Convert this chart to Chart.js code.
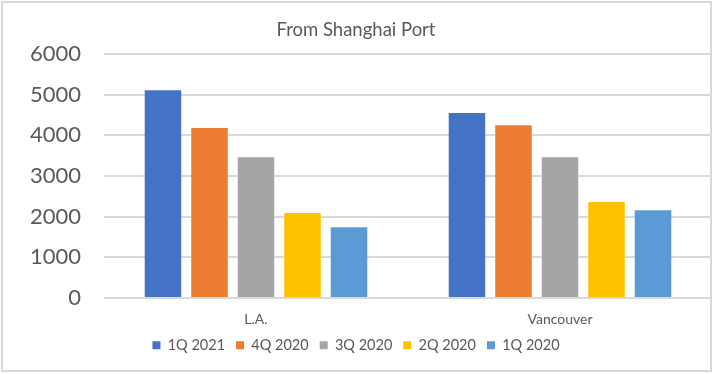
<!DOCTYPE html>
<html>
<head>
<meta charset="utf-8">
<script src="https://cdn.jsdelivr.net/npm/chart.js@4/dist/chart.umd.min.js"></script>
<style>
  html, body { margin: 0; padding: 0; background: #fff; }
  #wrap { width: 714px; height: 374px; position: relative; }
</style>
</head>
<body>
<div id="wrap"><canvas id="c" width="714" height="374"></canvas></div>
<script>
const categories = ["L.A.", "Vancouver"];
const seriesNames = ["1Q 2021", "4Q 2020", "3Q 2020", "2Q 2020", "1Q 2020"];
const q1_2021 = [5110, 4550];
const q4_2020 = [4180, 4250];
const q3_2020 = [3460, 3460];
const q2_2020 = [2090, 2360];
const q1_2020 = [1740, 2160];
const yTicks = [0, 1000, 2000, 3000, 4000, 5000, 6000];
const titleText = "From Shanghai Port";

const colors = ["#4472C4", "#ED7D31", "#A5A5A5", "#FFC000", "#5B9BD5"];
const seriesValues = [q1_2021, q4_2020, q3_2020, q2_2020, q1_2020];
const FONT = "Lato, 'Open Sans', sans-serif";
const TXT = "#595959";

const borderPlugin = {
  id: 'frame',
  beforeDraw(chart) {
    const ctx = chart.ctx;
    ctx.save();
    ctx.fillStyle = '#ffffff';
    ctx.fillRect(0, 0, chart.width, chart.height);
    ctx.restore();
  },
  afterDraw(chart) {
    const ctx = chart.ctx;
    ctx.save();
    ctx.strokeStyle = '#d9d9d9';
    ctx.lineWidth = 2;
    ctx.strokeRect(2, 2, 709, 369);
    ctx.restore();
  }
};

new Chart(document.getElementById('c'), {
  type: 'bar',
  data: {
    labels: categories,
    datasets: seriesNames.map((n, i) => ({
      label: n,
      data: seriesValues[i],
      backgroundColor: colors[i],
      borderWidth: 0,
      categoryPercentage: 0.765,
      barPercentage: 0.785
    }))
  },
  options: {
    responsive: false,
    animation: false,
    devicePixelRatio: 1,
    layout: { padding: { left: 0, right: 2, top: 0, bottom: 11.5 } },
    plugins: {
      title: {
        display: true,
        text: titleText,
        color: TXT,
        font: { family: FONT, size: 18.5, weight: 'normal' },
        padding: { top: 19, bottom: 12.8 }
      },
      legend: {
        position: 'bottom',
        labels: {
          color: TXT,
          font: { family: FONT, size: 14.5 },
          boxWidth: 8,
          boxHeight: 8,
          padding: 11
        }
      },
      tooltip: { enabled: false }
    },
    scales: {
      x: {
        grid: { display: false, drawTicks: false },
        border: { display: false },
        ticks: { color: TXT, font: { family: FONT, size: 14 }, padding: 13 },
        afterFit(s) { s.height = 29; }
      },
      y: {
        min: 0,
        max: 6000,
        afterBuildTicks(s) { s.ticks = yTicks.map(v => ({ value: v })); },
        grid: { color: '#d9d9d9', lineWidth: 2, drawTicks: false },
        border: { display: false },
        ticks: {
          color: TXT,
          font: { family: FONT, size: 22 },
          padding: 23,
          callback: (v) => String(v)
        },
        afterFit(s) { s.width = 104; }
      }
    }
  },
  plugins: [borderPlugin]
});
</script>
</body>
</html>
